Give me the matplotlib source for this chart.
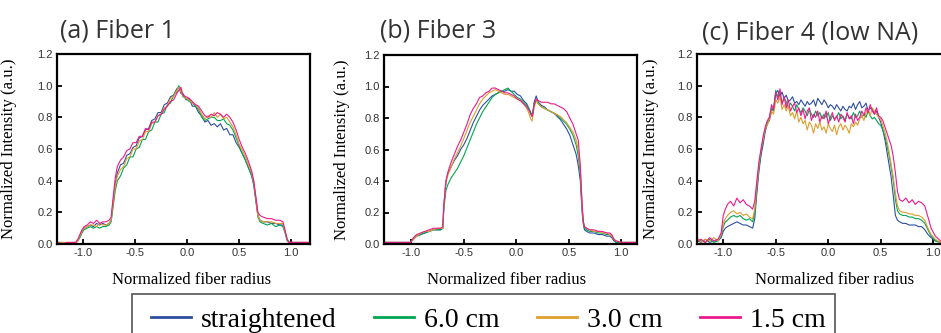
import matplotlib
matplotlib.use("Agg")
import matplotlib.pyplot as plt
from matplotlib.patches import Rectangle
from matplotlib.lines import Line2D

SERIF = ["Liberation Serif", "DejaVu Serif"]
SANS = ["Liberation Sans", "DejaVu Sans"]
TITLE_FONT = ["Open Sans", "DejaVu Sans"]

labels = ["straightened", "6.0 cm", "3.0 cm", "1.5 cm"]
colors = ["#2E4FA0", "#00A651", "#DE9E2F", "#EC1A8C"]
titles = ["(a) Fiber 1", "(b) Fiber 3", "(c) Fiber 4 (low NA)"]

# ---- panel (a) Fiber 1 ----
xa = [-1.25, -1.20, -1.15, -1.10, -1.07, -1.05, -1.03, -1.01, -0.99, -0.96,
      -0.93, -0.90, -0.87, -0.84, -0.81, -0.78, -0.75, -0.73, -0.71, -0.69,
      -0.67, -0.64, -0.61, -0.58, -0.55, -0.52, -0.49, -0.46, -0.43, -0.40,
      -0.37, -0.34, -0.31, -0.28, -0.25, -0.22, -0.19, -0.16, -0.13, -0.10,
      -0.08, -0.06, -0.04, -0.01, 0.02, 0.05, 0.08, 0.11, 0.14, 0.17,
      0.20, 0.23, 0.26, 0.29, 0.32, 0.35, 0.38, 0.41, 0.44, 0.47,
      0.50, 0.53, 0.56, 0.59, 0.62, 0.64, 0.66, 0.68, 0.70, 0.73,
      0.77, 0.81, 0.85, 0.89, 0.92, 0.94, 0.96, 0.98, 1.05, 1.18]
a_straight = [0.01, 0.01, 0.00, 0.01, 0.01, 0.02, 0.05, 0.08, 0.10, 0.11,
              0.12, 0.11, 0.13, 0.12, 0.13, 0.12, 0.13, 0.15, 0.27, 0.38,
              0.45, 0.50, 0.51, 0.56, 0.57, 0.61, 0.62, 0.67, 0.68, 0.72,
              0.73, 0.78, 0.79, 0.83, 0.83, 0.88, 0.89, 0.93, 0.94, 0.98,
              0.99, 0.95, 0.95, 0.91, 0.92, 0.87, 0.87, 0.83, 0.81, 0.77,
              0.78, 0.75, 0.76, 0.74, 0.76, 0.72, 0.73, 0.69, 0.69, 0.64,
              0.61, 0.57, 0.53, 0.48, 0.43, 0.37, 0.27, 0.18, 0.15, 0.14,
              0.14, 0.13, 0.13, 0.12, 0.12, 0.08, 0.03, 0.01, 0.01, 0.01]
a_6cm = [0.01, 0.00, 0.01, 0.00, 0.01, 0.02, 0.04, 0.07, 0.09, 0.10,
         0.11, 0.10, 0.11, 0.10, 0.11, 0.11, 0.12, 0.14, 0.24, 0.34,
         0.40, 0.43, 0.48, 0.50, 0.55, 0.55, 0.60, 0.61, 0.66, 0.66,
         0.71, 0.72, 0.77, 0.77, 0.82, 0.83, 0.88, 0.89, 0.94, 0.96,
         1.00, 0.97, 0.93, 0.92, 0.90, 0.89, 0.87, 0.85, 0.80, 0.78,
         0.79, 0.80, 0.80, 0.78, 0.78, 0.79, 0.76, 0.75, 0.72, 0.67,
         0.62, 0.57, 0.53, 0.48, 0.43, 0.38, 0.28, 0.17, 0.14, 0.13,
         0.12, 0.13, 0.11, 0.12, 0.11, 0.07, 0.02, 0.01, 0.00, 0.01]
a_3cm = [0.01, 0.01, 0.01, 0.01, 0.00, 0.02, 0.05, 0.08, 0.10, 0.11,
         0.12, 0.12, 0.11, 0.13, 0.12, 0.12, 0.13, 0.15, 0.27, 0.37,
         0.43, 0.47, 0.49, 0.54, 0.55, 0.60, 0.60, 0.65, 0.66, 0.71,
         0.71, 0.76, 0.77, 0.81, 0.82, 0.86, 0.87, 0.92, 0.93, 0.97,
         0.99, 0.96, 0.94, 0.92, 0.91, 0.89, 0.88, 0.86, 0.82, 0.79,
         0.81, 0.80, 0.83, 0.80, 0.82, 0.79, 0.80, 0.77, 0.74, 0.69,
         0.63, 0.59, 0.55, 0.50, 0.45, 0.39, 0.29, 0.18, 0.15, 0.14,
         0.14, 0.14, 0.13, 0.13, 0.13, 0.08, 0.03, 0.01, 0.01, 0.01]
a_15cm = [0.01, 0.00, 0.01, 0.01, 0.01, 0.03, 0.06, 0.09, 0.11, 0.12,
          0.14, 0.13, 0.15, 0.13, 0.14, 0.14, 0.15, 0.17, 0.30, 0.42,
          0.49, 0.53, 0.55, 0.59, 0.60, 0.64, 0.64, 0.68, 0.68, 0.73,
          0.72, 0.77, 0.77, 0.81, 0.82, 0.85, 0.87, 0.90, 0.91, 0.95,
          0.97, 0.99, 0.94, 0.93, 0.92, 0.90, 0.88, 0.87, 0.84, 0.81,
          0.80, 0.82, 0.81, 0.83, 0.82, 0.80, 0.82, 0.80, 0.77, 0.72,
          0.66, 0.61, 0.57, 0.52, 0.46, 0.40, 0.30, 0.20, 0.18, 0.17,
          0.16, 0.16, 0.15, 0.15, 0.14, 0.09, 0.03, 0.01, 0.01, 0.01]

# ---- panel (b) Fiber 3 ----
xb = [-1.26, -1.18, -1.10, -1.04, -1.01, -0.98, -0.95, -0.91, -0.87, -0.83,
      -0.79, -0.75, -0.72, -0.70, -0.69, -0.67, -0.65, -0.62, -0.59, -0.56,
      -0.53, -0.50, -0.47, -0.44, -0.41, -0.38, -0.35, -0.32, -0.29, -0.26,
      -0.23, -0.20, -0.17, -0.14, -0.11, -0.08, -0.05, -0.02, 0.01, 0.04,
      0.07, 0.10, 0.12, 0.14, 0.15, 0.16, 0.17, 0.19, 0.21, 0.24,
      0.27, 0.30, 0.33, 0.36, 0.39, 0.42, 0.45, 0.48, 0.51, 0.54,
      0.57, 0.59, 0.61, 0.62, 0.63, 0.64, 0.65, 0.67, 0.70, 0.74,
      0.78, 0.82, 0.86, 0.89, 0.91, 0.93, 0.95, 1.00, 1.08, 1.15]
b_straight = [0.01, 0.01, 0.01, 0.01, 0.01, 0.03, 0.05, 0.06, 0.07, 0.08,
              0.09, 0.09, 0.09, 0.10, 0.24, 0.40, 0.45, 0.49, 0.53, 0.56,
              0.60, 0.63, 0.67, 0.72, 0.77, 0.81, 0.85, 0.88, 0.90, 0.92,
              0.94, 0.95, 0.96, 0.97, 0.97, 0.98, 0.97, 0.97, 0.95, 0.94,
              0.91, 0.89, 0.86, 0.83, 0.81, 0.84, 0.90, 0.94, 0.90, 0.88,
              0.87, 0.85, 0.84, 0.83, 0.81, 0.79, 0.76, 0.73, 0.69, 0.63,
              0.57, 0.50, 0.40, 0.28, 0.18, 0.12, 0.09, 0.08, 0.07, 0.07,
              0.06, 0.06, 0.05, 0.05, 0.04, 0.02, 0.01, 0.01, 0.01, 0.01]
b_6cm = [0.01, 0.01, 0.01, 0.01, 0.01, 0.03, 0.05, 0.06, 0.07, 0.08,
         0.09, 0.09, 0.09, 0.10, 0.22, 0.34, 0.38, 0.42, 0.45, 0.48,
         0.52, 0.56, 0.61, 0.66, 0.71, 0.76, 0.80, 0.84, 0.87, 0.90,
         0.93, 0.95, 0.96, 0.97, 0.98, 0.99, 0.97, 0.95, 0.93, 0.92,
         0.90, 0.88, 0.86, 0.83, 0.82, 0.85, 0.89, 0.91, 0.89, 0.87,
         0.86, 0.85, 0.84, 0.83, 0.82, 0.80, 0.78, 0.76, 0.73, 0.69,
         0.63, 0.56, 0.45, 0.32, 0.20, 0.13, 0.10, 0.09, 0.08, 0.08,
         0.07, 0.07, 0.06, 0.06, 0.05, 0.03, 0.01, 0.01, 0.01, 0.01]
b_3cm = [0.01, 0.01, 0.01, 0.01, 0.01, 0.03, 0.05, 0.07, 0.08, 0.08,
         0.09, 0.10, 0.10, 0.10, 0.24, 0.39, 0.44, 0.49, 0.54, 0.58,
         0.62, 0.67, 0.72, 0.77, 0.81, 0.85, 0.89, 0.92, 0.94, 0.96,
         0.97, 0.98, 0.97, 0.96, 0.95, 0.95, 0.94, 0.93, 0.92, 0.91,
         0.89, 0.86, 0.83, 0.79, 0.78, 0.82, 0.87, 0.91, 0.89, 0.87,
         0.86, 0.85, 0.84, 0.83, 0.82, 0.81, 0.79, 0.77, 0.74, 0.71,
         0.66, 0.60, 0.47, 0.34, 0.21, 0.14, 0.11, 0.10, 0.09, 0.08,
         0.08, 0.07, 0.07, 0.06, 0.05, 0.03, 0.02, 0.01, 0.01, 0.01]
b_15cm = [0.01, 0.01, 0.01, 0.01, 0.01, 0.04, 0.06, 0.07, 0.08, 0.09,
          0.10, 0.10, 0.10, 0.11, 0.25, 0.40, 0.46, 0.52, 0.57, 0.62,
          0.66, 0.71, 0.76, 0.82, 0.86, 0.89, 0.93, 0.94, 0.96, 0.97,
          0.99, 0.99, 0.98, 0.97, 0.96, 0.96, 0.95, 0.94, 0.92, 0.91,
          0.89, 0.87, 0.85, 0.82, 0.81, 0.83, 0.88, 0.92, 0.91, 0.90,
          0.90, 0.90, 0.89, 0.89, 0.88, 0.87, 0.86, 0.84, 0.80, 0.76,
          0.70, 0.66, 0.50, 0.35, 0.22, 0.14, 0.11, 0.10, 0.09, 0.09,
          0.08, 0.08, 0.07, 0.07, 0.06, 0.03, 0.02, 0.01, 0.01, 0.01]

# ---- panel (c) Fiber 4 (low NA) ----
xc = [-1.25, -1.21, -1.17, -1.13, -1.09, -1.05, -1.02, -1.00, -0.98, -0.96,
      -0.93, -0.90, -0.87, -0.84, -0.81, -0.78, -0.75, -0.72, -0.70, -0.68,
      -0.66, -0.64, -0.62, -0.60, -0.58, -0.56, -0.54, -0.52, -0.50, -0.48,
      -0.46, -0.44, -0.42, -0.40, -0.38, -0.36, -0.34, -0.32, -0.30, -0.28,
      -0.26, -0.24, -0.22, -0.20, -0.18, -0.16, -0.14, -0.12, -0.10, -0.08,
      -0.06, -0.04, -0.02, 0.00, 0.02, 0.04, 0.06, 0.08, 0.10, 0.12,
      0.14, 0.16, 0.18, 0.20, 0.22, 0.24, 0.26, 0.28, 0.30, 0.32,
      0.34, 0.36, 0.38, 0.40, 0.42, 0.44, 0.46, 0.48, 0.50, 0.52,
      0.54, 0.56, 0.58, 0.60, 0.62, 0.64, 0.66, 0.68, 0.71, 0.74,
      0.77, 0.80, 0.83, 0.86, 0.89, 0.92, 0.95, 0.98, 1.02, 1.07]
c_straight = [0.02, 0.01, 0.03, 0.01, 0.02, 0.02, 0.04, 0.08, 0.10, 0.11,
              0.12, 0.13, 0.14, 0.13, 0.12, 0.12, 0.11, 0.10, 0.16, 0.32,
              0.46, 0.56, 0.63, 0.71, 0.76, 0.78, 0.84, 0.86, 0.95, 0.97,
              0.93, 0.96, 0.92, 0.94, 0.90, 0.91, 0.93, 0.89, 0.90, 0.88,
              0.91, 0.89, 0.87, 0.90, 0.88, 0.89, 0.91, 0.87, 0.92, 0.90,
              0.88, 0.91, 0.89, 0.86, 0.88, 0.87, 0.85, 0.88, 0.86, 0.84,
              0.87, 0.85, 0.84, 0.87, 0.86, 0.89, 0.85, 0.88, 0.90, 0.86,
              0.87, 0.89, 0.84, 0.86, 0.85, 0.82, 0.84, 0.80, 0.77, 0.72,
              0.66, 0.58, 0.50, 0.42, 0.30, 0.18, 0.15, 0.14, 0.13, 0.13,
              0.12, 0.12, 0.12, 0.11, 0.11, 0.09, 0.06, 0.04, 0.02, 0.01]
c_6cm = [0.03, 0.02, 0.01, 0.03, 0.01, 0.02, 0.05, 0.11, 0.14, 0.15,
         0.17, 0.18, 0.17, 0.18, 0.16, 0.15, 0.16, 0.14, 0.20, 0.35,
         0.48, 0.58, 0.66, 0.72, 0.76, 0.80, 0.86, 0.84, 0.97, 0.93,
         0.95, 0.89, 0.92, 0.90, 0.86, 0.89, 0.87, 0.84, 0.88, 0.85,
         0.83, 0.86, 0.84, 0.81, 0.85, 0.82, 0.80, 0.84, 0.81, 0.83,
         0.79, 0.82, 0.80, 0.83, 0.78, 0.81, 0.79, 0.80, 0.83, 0.79,
         0.81, 0.78, 0.82, 0.80, 0.79, 0.83, 0.80, 0.81, 0.84, 0.80,
         0.82, 0.80, 0.84, 0.81, 0.79, 0.80, 0.78, 0.76, 0.75, 0.72,
         0.68, 0.62, 0.56, 0.48, 0.40, 0.28, 0.21, 0.19, 0.18, 0.18,
         0.17, 0.17, 0.16, 0.16, 0.15, 0.13, 0.09, 0.05, 0.02, 0.01]
c_3cm = [0.04, 0.01, 0.03, 0.02, 0.04, 0.02, 0.06, 0.13, 0.16, 0.18,
         0.20, 0.21, 0.19, 0.20, 0.18, 0.19, 0.17, 0.16, 0.22, 0.37,
         0.50, 0.60, 0.66, 0.73, 0.75, 0.79, 0.84, 0.82, 0.91, 0.89,
         0.93, 0.85, 0.88, 0.84, 0.87, 0.81, 0.83, 0.79, 0.84, 0.77,
         0.80, 0.76, 0.78, 0.72, 0.77, 0.75, 0.70, 0.76, 0.73, 0.77,
         0.72, 0.74, 0.70, 0.76, 0.73, 0.71, 0.75, 0.69, 0.74, 0.76,
         0.72, 0.75, 0.73, 0.70, 0.76, 0.74, 0.77, 0.75, 0.79, 0.81,
         0.78, 0.83, 0.85, 0.81, 0.86, 0.84, 0.82, 0.80, 0.79, 0.75,
         0.71, 0.65, 0.58, 0.50, 0.42, 0.32, 0.24, 0.21, 0.20, 0.20,
         0.19, 0.19, 0.18, 0.18, 0.17, 0.15, 0.10, 0.06, 0.03, 0.01]
c_15cm = [0.02, 0.03, 0.01, 0.04, 0.02, 0.03, 0.07, 0.18, 0.22, 0.25,
          0.27, 0.24, 0.29, 0.26, 0.28, 0.25, 0.24, 0.22, 0.27, 0.40,
          0.52, 0.60, 0.68, 0.74, 0.78, 0.80, 0.88, 0.85, 0.96, 0.91,
          0.98, 0.88, 0.93, 0.86, 0.91, 0.84, 0.87, 0.89, 0.83, 0.86,
          0.81, 0.85, 0.79, 0.84, 0.86, 0.78, 0.82, 0.80, 0.84, 0.77,
          0.81, 0.79, 0.84, 0.76, 0.80, 0.83, 0.78, 0.81, 0.77, 0.82,
          0.80, 0.77, 0.83, 0.79, 0.81, 0.76, 0.82, 0.78, 0.80, 0.84,
          0.81, 0.86, 0.83, 0.88, 0.84, 0.82, 0.86, 0.81, 0.80, 0.78,
          0.74, 0.70, 0.66, 0.62, 0.55, 0.45, 0.33, 0.28, 0.27, 0.29,
          0.26, 0.28, 0.25, 0.27, 0.26, 0.24, 0.17, 0.10, 0.05, 0.02]

panels = [
    (xa, [a_straight, a_6cm, a_3cm, a_15cm]),
    (xb, [b_straight, b_6cm, b_3cm, b_15cm]),
    (xc, [c_straight, c_6cm, c_3cm, c_15cm]),
]

W, H = 941, 333
fig = plt.figure(figsize=(W / 100, H / 100), dpi=100)

# axes boxes in pixels (left, right, top, bottom)
boxes = [(57, 310, 54, 244), (384, 637, 55, 244), (697, 950, 54, 244)]
xlims = [(-1.25, 1.18), (-1.26, 1.15), (-1.25, 1.16)]
title_x = [0.012, -0.016, 0.02]
title_y = [38, 38, 40]
xlabel_x = [0.53, 0.486, 0.545]
ylabel_x = [-0.158, -0.136, -0.15]

for i, (x, series) in enumerate(panels):
    l, r, t, b = boxes[i]
    ax = fig.add_axes([l / W, 1 - b / H, (r - l) / W, (b - t) / H])
    for y, c in zip(series, colors):
        ax.plot(x, y, color=c, lw=0.8)
    ax.set_xlim(*xlims[i])
    ax.set_ylim(0, 1.2)
    ax.set_xticks([-1.0, -0.5, 0.0, 0.5, 1.0])
    ax.set_yticks([0.0, 0.2, 0.4, 0.6, 0.8, 1.0, 1.2])
    ax.set_xticklabels(["-1.0", "-0.5", "0.0", "0.5", "1.0"])
    ax.set_yticklabels(["0.0", "0.2", "0.4", "0.6", "0.8", "1.0", "1.2"])
    ax.tick_params(direction="in", length=3.5, width=1.3, colors="black",
                   labelcolor="#333333", labelsize=8, pad=3)
    for lab in ax.get_xticklabels() + ax.get_yticklabels():
        lab.set_family(SANS)
    for s in ax.spines.values():
        s.set_linewidth(1.6)
    ax.set_xlabel("Normalized fiber radius", family=SERIF, fontsize=12)
    ax.set_ylabel("Normalized Intensity (a.u.)", family=SERIF, fontsize=12)
    ax.xaxis.set_label_coords(xlabel_x[i], -0.15)
    ax.yaxis.set_label_coords(ylabel_x[i], 0.5)
    ax.text(title_x[i], (b - title_y[i]) / (b - t), titles[i], transform=ax.transAxes,
            family=TITLE_FONT, fontsize=18, color="#333333", va="baseline", ha="left")

# legend frame, cut off at the bottom of the figure
fig.patches.append(Rectangle((132 / W, -0.1), (835 - 132) / W, 0.1 + (1 - 294 / H),
                             transform=fig.transFigure, fill=False,
                             edgecolor="#555555", lw=1.2))
handles = [Line2D([], [], color=c, lw=2.0) for c in colors]
fig.legend(handles, labels, ncol=4, loc="center left",
           bbox_to_anchor=(151 / W, 1 - 320 / H), frameon=False,
           prop={"family": SERIF, "size": 20}, handlelength=1.44,
           handletextpad=0.36, columnspacing=1.34, borderpad=0, borderaxespad=0)

fig.savefig("out.png", dpi=100)
